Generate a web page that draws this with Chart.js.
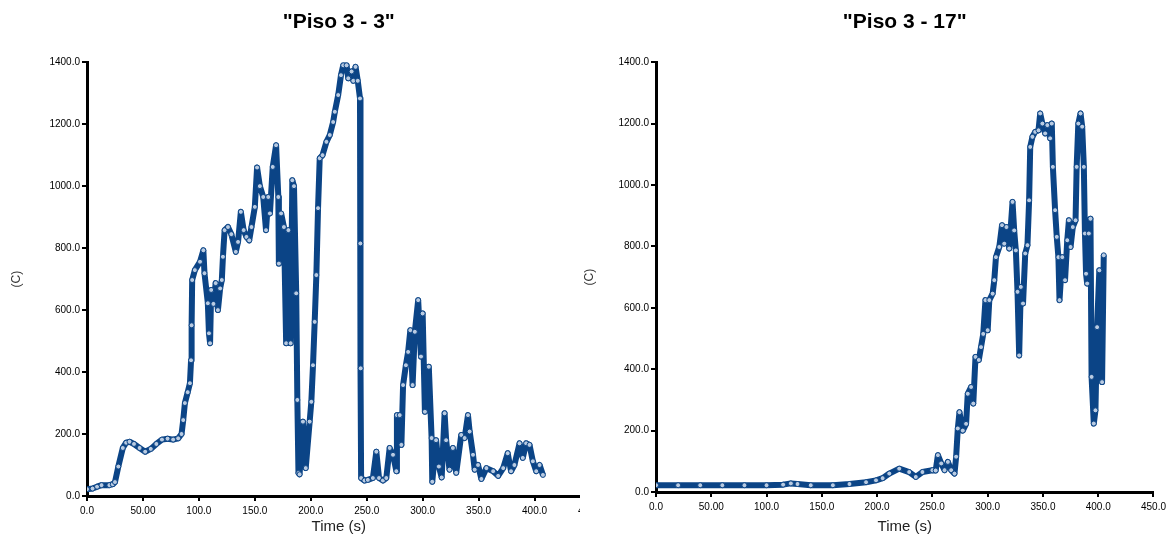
<!DOCTYPE html>
<html>
<head>
<meta charset="utf-8">
<script src="https://cdn.jsdelivr.net/npm/chart.js@4"></script>
<style>
  body { margin: 0; background: #fff; }
  #wrap { position: relative; width: 1170px; height: 536px; overflow: hidden; }
  #leftBox { position: absolute; left: 0; top: 0; width: 580px; height: 536px; overflow: hidden; }
  #rightBox { position: absolute; left: 573px; top: 0; width: 597px; height: 536px; }
</style>
</head>
<body>
<div id="wrap">
  <div id="leftBox"><canvas id="left" width="607" height="536"></canvas></div>
  <div id="rightBox"><canvas id="right" width="597" height="536"></canvas></div>
</div>
<script>
var xTickLabels = ['0.0', '50.00', '100.0', '150.0', '200.0', '250.0', '300.0', '350.0', '400.0', '450.0'];
var yTickLabels = ['0.0', '200.0', '400.0', '600.0', '800.0', '1000.0', '1200.0', '1400.0'];

// "Piso 3 - 3"
var leftTime = [0, 5, 9, 13, 20, 23, 25, 28, 32, 35, 38, 42, 47, 52, 57, 62, 67, 72, 77, 81.5,
  84.5, 86, 87.5, 90, 92, 93, 93.5, 94, 96.4, 101, 104, 105, 108, 109, 110, 111, 113, 115, 117, 119,
  120.5, 121.5, 123, 126, 129, 133, 135, 137.5, 140, 142.5, 145, 147, 150, 152, 154.5, 157.5, 160, 162, 163.5, 166,
  169, 171, 171.5, 173.5, 176, 178, 180, 182, 183.5, 185, 187, 188, 189, 190, 193, 195.5, 199, 200.5, 202, 203.5,
  205, 206.5, 208, 210.5, 214, 217, 220, 221.5, 224.5, 227, 229, 232, 233.5, 236.5, 238, 240, 242, 244, 244.3, 244.6,
  245, 248, 251, 255.5, 258.6, 261, 264.5, 267.5, 270.5, 273.5, 276.5, 277, 279.5, 281, 282.5, 285, 287, 289, 291, 293,
  296, 298.5, 300, 302, 305.5, 308, 308.6, 312, 314.5, 317, 319.6, 321, 324, 327, 330, 334.5, 337.5, 340.5, 342, 345,
  346.5, 349.5, 352.5, 357, 363, 367.5, 372, 376, 379, 382, 386.6, 389.5, 392.5, 395.5, 398.5, 401.5, 404.5, 407.5];
var leftTemp = [22, 24, 30, 35, 35, 38, 45, 95, 155, 172, 175, 168, 155, 143, 152, 168, 182, 185, 182, 186,
  200, 245, 300, 335, 364, 438, 551, 697, 729, 756, 793, 719, 622, 525, 493, 665, 620, 687, 600, 670,
  697, 772, 858, 868, 845, 788, 820, 917, 858, 836, 825, 868, 933, 1060, 1000, 965, 858, 965, 912, 1062,
  1132, 965, 750, 912, 868, 493, 858, 493, 1019, 1000, 654, 310, 74, 70, 240, 90, 240, 304, 422, 562,
  713, 929, 1090, 1100, 1143, 1165, 1207, 1240, 1294, 1358, 1390, 1390, 1348, 1370, 1340, 1385, 1340, 1283, 815, 412,
  58, 50, 52, 58, 143, 58, 50, 58, 155, 133, 80, 261, 261, 165, 358, 422, 465, 535, 358, 530,
  632, 450, 589, 272, 417, 187, 46, 180, 95, 60, 267, 180, 85, 155, 75, 197, 187, 261, 208, 133,
  85, 100, 55, 90, 80, 65, 90, 138, 80, 100, 170, 123, 170, 165, 112, 80, 100, 68];

// "Piso 3 - 17"
var rightTime = [0, 20, 40, 60, 80, 100, 115, 122, 128, 140, 160, 175, 190, 199, 205, 211, 220, 229, 235, 241,
  250, 253, 255, 258, 261, 264, 267, 270, 271.5, 273, 274.5, 277.5, 280.5, 282, 285, 287, 289, 292, 294, 296,
  298, 300, 301.5, 304.5, 306, 307.5, 310.5, 313, 315, 317, 319.5, 322.5, 324, 325.5, 327, 328.5, 330, 332, 334, 336,
  337.5, 338.5, 340.5, 343, 346, 347.5, 349.5, 352, 354, 356.5, 358, 359, 361, 362.5, 364, 365, 367.5, 370, 372, 373.5,
  375, 377, 379.5, 380.5, 382, 384, 385.5, 387, 388, 389, 390, 391.5, 393, 394, 396, 397.5, 399, 401, 403.5, 405];
var rightTemp = [22, 22, 22, 22, 22, 22, 24, 28, 26, 22, 22, 26, 32, 38, 45, 60, 76, 65, 49, 65,
  71, 70, 120, 93, 71, 98, 71, 60, 115, 207, 260, 200, 222, 320, 342, 288, 440, 430, 472, 515,
  625, 527, 625, 646, 690, 765, 798, 869, 809, 863, 793, 945, 852, 787, 652, 445, 668, 614, 777, 804,
  950, 1124, 1157, 1173, 1178, 1233, 1200, 1168, 1195, 1152, 1200, 1059, 918, 831, 765, 625, 765, 690, 820, 885,
  798, 863, 885, 1059, 1200, 1233, 1190, 1059, 842, 711, 679, 842, 890, 375, 223, 266, 537, 722, 358, 771];

function makeChart(id, title, times, temps, yWidth, xHeight) {
  var pts = times.map(function (t, i) { return { x: t, y: temps[i] }; });
  var ctx = document.getElementById(id).getContext('2d');
  return new Chart(ctx, {
    type: 'line',
    data: {
      datasets: [{
        data: pts,
        borderColor: '#0b4486',
        borderWidth: 6,
        borderJoinStyle: 'round',
        tension: 0,
        pointRadius: 2.5,
        pointBackgroundColor: '#b9cbe2',
        pointBorderColor: '#0b4486',
        pointBorderWidth: 1
      }]
    },
    options: {
      responsive: false,
      animation: false,
      layout: { padding: { left: 9, right: 16, top: 0, bottom: 0 } },
      plugins: {
        legend: { display: false },
        tooltip: { enabled: false },
        title: {
          display: true,
          text: title,
          fullSize: false,
          color: '#000',
          font: { family: 'Liberation Sans, Arial, sans-serif', size: 21, weight: 'bold' },
          padding: { top: 10, bottom: 27 }
        }
      },
      scales: {
        x: {
          type: 'linear',
          min: 0,
          max: 450,
          afterFit: function (s) { s.height = xHeight; },
          border: { color: '#000', width: 3 },
          grid: { drawOnChartArea: false, color: '#000', tickColor: '#000', tickLength: 5, lineWidth: 2 },
          ticks: {
            stepSize: 50,
            padding: 4,
            maxRotation: 0,
            color: '#000',
            font: { family: 'Liberation Sans, Arial, sans-serif', size: 10 },
            callback: function (v) { return xTickLabels[Math.round(v / 50)]; }
          },
          title: {
            display: true,
            text: 'Time (s)',
            color: '#222',
            font: { family: 'Liberation Sans, Arial, sans-serif', size: 15 },
            padding: { top: 0, bottom: 0 }
          }
        },
        y: {
          min: 0,
          max: 1400,
          afterFit: function (s) { s.width = yWidth; },
          border: { color: '#000', width: 3 },
          grid: { drawOnChartArea: false, color: '#000', tickColor: '#000', tickLength: 5, lineWidth: 2 },
          ticks: {
            stepSize: 200,
            padding: 2,
            color: '#000',
            font: { family: 'Liberation Sans, Arial, sans-serif', size: 10 },
            callback: function (v) { return yTickLabels[Math.round(v / 200)]; }
          },
          title: {
            display: true,
            text: '(C)',
            color: '#333',
            font: { family: 'Liberation Sans, Arial, sans-serif', size: 12 },
            padding: { top: 0, bottom: 0 }
          }
        }
      }
    }
  });
}

makeChart('left', '"Piso 3 - 3"', leftTime, leftTemp, 78, 40);
makeChart('right', '"Piso 3 - 17"', rightTime, rightTemp, 74, 44);
</script>
</body>
</html>
